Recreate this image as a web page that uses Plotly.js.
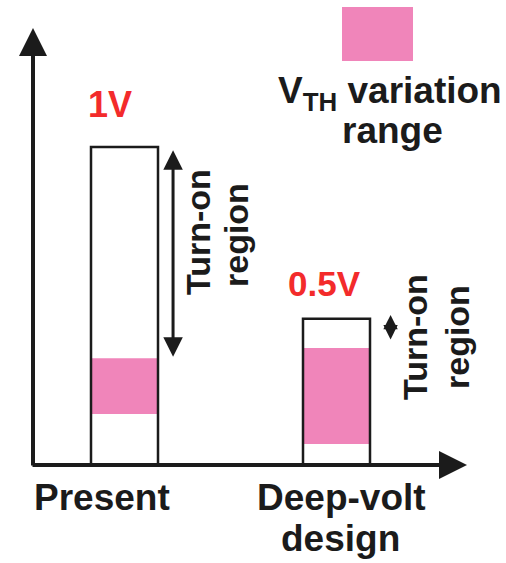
<!DOCTYPE html>
<html>
<head>
<meta charset="utf-8">
<script src="https://cdn.plot.ly/plotly-3.0.1.min.js"></script>
<style>html,body{margin:0;padding:0;background:#fff;}#chart{width:506px;height:563px;}</style>
</head>
<body>
<div id="chart"></div>
<script>
// ---- data ----
const categories = [0, 1];
const categoryLabels = [["Present"], ["Deep-volt", "design"]];
const supplyLabels = ["1V", "0.5V"];
const supplyVoltage = [1.0, 0.46];      // bar top (Vdd, drawn scale)
const vthLow = [0.16, 0.066];           // bottom of VTH variation range
const vthHigh = [0.336, 0.368];         // top of VTH variation range
const legendLines = ["V<sub>TH</sub> variation", "range"];
const turnOnText = ["Turn-on", "region"];

// ---- geometry helpers (pixel -> paper) ----
const W = 506, H = 563;
const L = 33, R = 467, T = 28, B = 465;
const px = x => (x - L) / (R - L);
const py = y => (B - y) / (B - T);

const pink = "#F085BA";
const red = "#F32B2B";
const ink = "#1b1b1b";
const font = "Liberation Sans, Arial, sans-serif";
const barW = 0.316;

const vthSpan = vthHigh.map((h, i) => h - vthLow[i]);

const traces = [
  {type: "bar", x: categories, y: supplyVoltage, width: barW,
   marker: {color: "#ffffff", line: {width: 0}}, hoverinfo: "skip"},
  {type: "bar", x: categories, y: vthSpan, base: vthLow, width: barW,
   marker: {color: pink, line: {width: 0}}, hoverinfo: "skip"},
  {type: "bar", x: categories, y: supplyVoltage, width: barW,
   marker: {color: "rgba(0,0,0,0)", line: {width: 2.5, color: ink}}, hoverinfo: "skip"}
];

const ann = [];
function label(x, y, text, size, color, angle) {
  ann.push({xref: "paper", yref: "paper", x: px(x), y: py(y), xanchor: "center", yanchor: "middle",
    text: text, showarrow: false, textangle: angle || 0,
    font: {family: font, size: size, color: color}});
}
// axes arrows
ann.push({xref: "paper", yref: "paper", axref: "paper", ayref: "paper",
  x: 0, y: 1, ax: 0, ay: py(467), text: "", showarrow: true,
  arrowhead: 2, arrowsize: 1.4, arrowwidth: 4, arrowcolor: ink, standoff: 0});
ann.push({xref: "paper", yref: "paper", axref: "paper", ayref: "paper",
  x: 1, y: 0, ax: px(31), ay: 0, text: "", showarrow: true,
  arrowhead: 2, arrowsize: 1.4, arrowwidth: 4, arrowcolor: ink, standoff: 0});
// turn-on arrows (data coordinates)
const arrowX = [0.229, 1.255];
const arrowTop = [supplyVoltage[0] - 0.01, supplyVoltage[1] + 0.012];
const arrowBot = [vthHigh[0], vthHigh[1] + 0.022];
categories.forEach((c, i) => {
  ann.push({xref: "x", yref: "y", axref: "x", ayref: "y",
    x: arrowX[i], y: arrowTop[i], ax: arrowX[i], ay: arrowBot[i],
    text: "", showarrow: true, arrowside: "end+start",
    arrowhead: 2, arrowsize: i === 0 ? 1.3 : 1.2, arrowwidth: i === 0 ? 3 : 2.4,
    arrowcolor: ink, standoff: 0, startstandoff: 0});
});
// supply labels
label(110, 104, "<b>" + supplyLabels[0] + "</b>", 36, red);
label(324, 283, "<b>" + supplyLabels[1] + "</b>", 35, red);
// category labels
label(102, 497, "<b>" + categoryLabels[0][0] + "</b>", 37, ink);
label(341, 497, "<b>" + categoryLabels[1][0] + "</b>", 37, ink);
label(340, 538, "<b>" + categoryLabels[1][1] + "</b>", 37, ink);
// turn-on region labels
const tpos = [[198, 232, 236, 235], [415, 337, 457, 337]];
tpos.forEach(p => {
  label(p[0], p[1], "<b>" + turnOnText[0] + "</b>", 34, ink, -90);
  label(p[2], p[3], "<b>" + turnOnText[1] + "</b>", 34, ink, -90);
});
// legend text
label(390, 93, "<b>" + legendLines[0] + "</b>", 37, ink);
label(392, 130, "<b>" + legendLines[1] + "</b>", 37, ink);

const layout = {
  width: W, height: H,
  margin: {l: L, r: W - R, t: T, b: H - B, pad: 0},
  paper_bgcolor: "#fff", plot_bgcolor: "#fff",
  showlegend: false, barmode: "overlay",
  xaxis: {range: [-(124.5 - L) / 212, (R - 124.5) / 212], showgrid: false, zeroline: false,
          showticklabels: false, ticks: "", showline: false, fixedrange: true},
  yaxis: {range: [0, (B - T) / 318], showgrid: false, zeroline: false,
          showticklabels: false, ticks: "", showline: false, fixedrange: true},
  shapes: [{type: "rect", xref: "paper", yref: "paper", x0: px(342), x1: px(413), y0: py(61), y1: py(7),
            fillcolor: pink, line: {width: 0}}],
  annotations: ann
};

Plotly.newPlot("chart", traces, layout, {displayModeBar: false, staticPlot: true});
</script>
</body>
</html>
